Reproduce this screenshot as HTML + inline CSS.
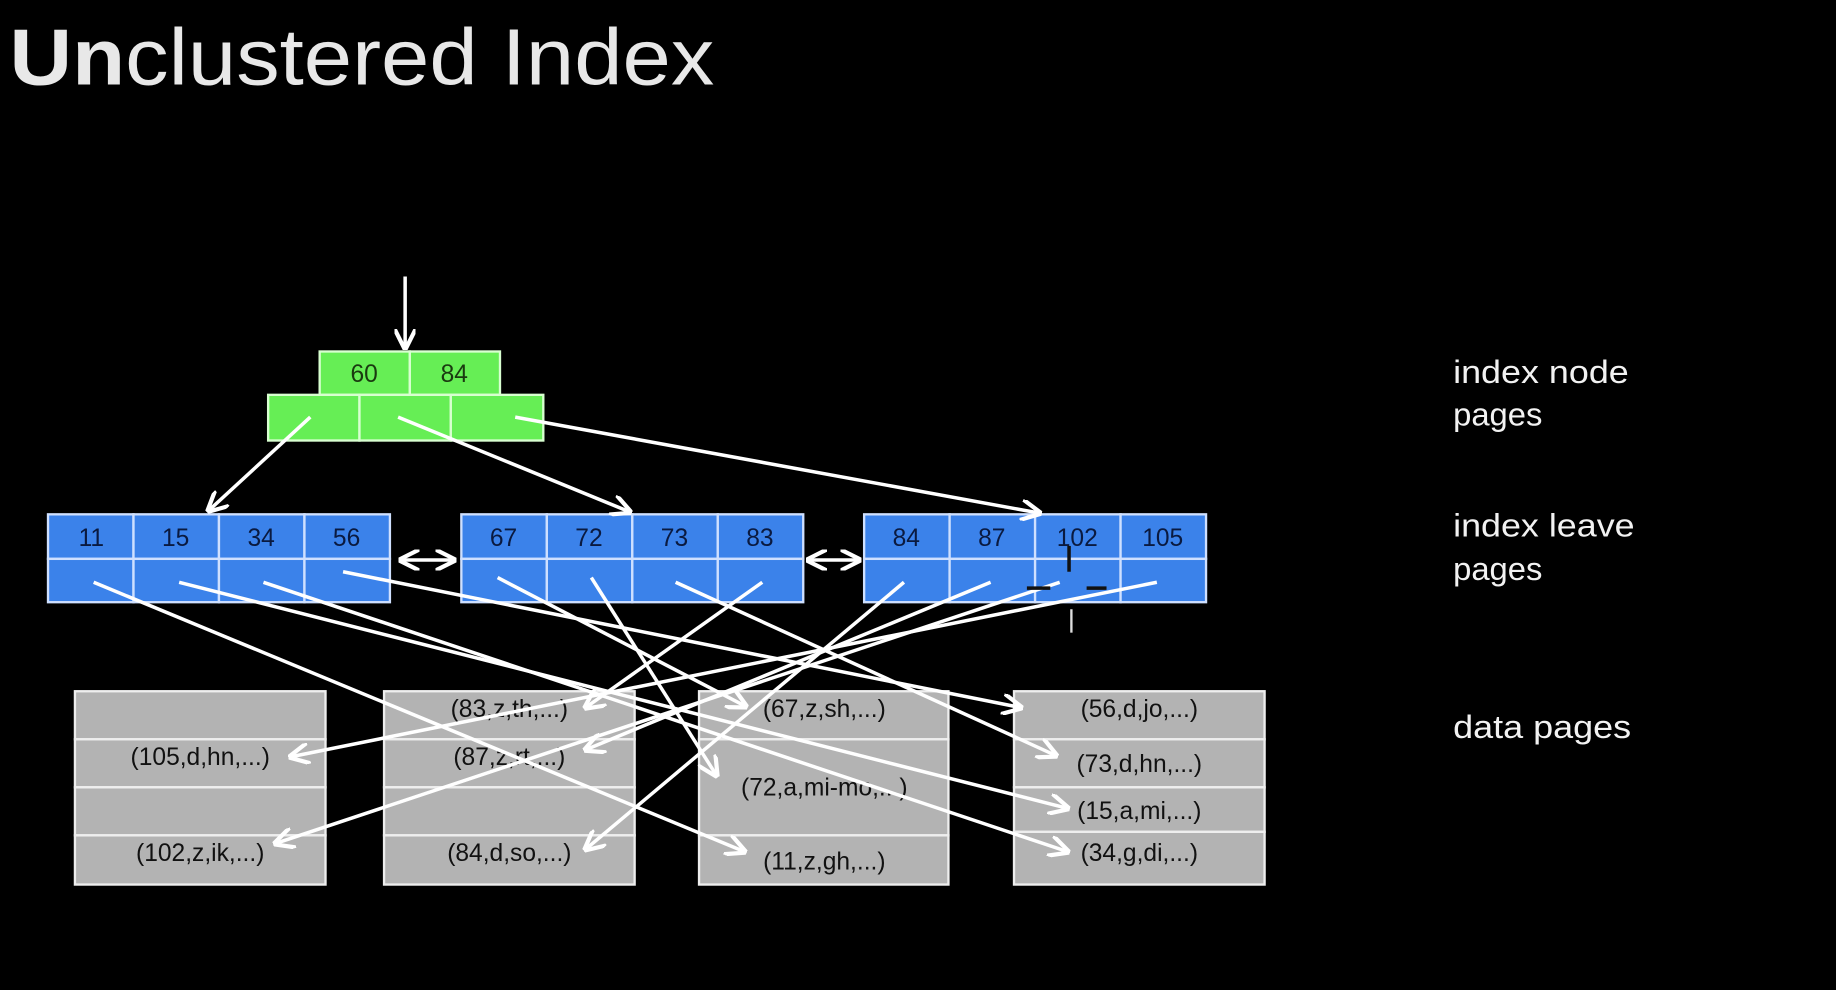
<!DOCTYPE html>
<html><head><meta charset="utf-8"><style>
html,body{margin:0;padding:0;background:#000;}
svg{display:block;}
</style></head><body>
<svg width="1836" height="990" viewBox="0 0 1568 845" preserveAspectRatio="none" xmlns="http://www.w3.org/2000/svg" font-family="Liberation Sans, sans-serif">
<defs>
<marker id="a" viewBox="0 0 10 10" refX="9" refY="5" markerWidth="18" markerHeight="18" markerUnits="userSpaceOnUse" orient="auto-start-reverse">
<path d="M0,0 L10,5 L0,10" fill="none" stroke="#fff" stroke-width="2"/>
</marker>
</defs>
<rect width="1568" height="845" fill="#000"/>
<text x="8" y="72" font-size="68" fill="#e8e8e8" textLength="602" lengthAdjust="spacingAndGlyphs"><tspan font-weight="bold">Un</tspan>clustered Index</text>

<g stroke="#d8ffd0" stroke-width="2" fill="#66ee55">
<rect x="273" y="300" width="77" height="37"/><rect x="350" y="300" width="77" height="37"/>
<rect x="229" y="337" width="78" height="39"/><rect x="307" y="337" width="78" height="39"/><rect x="385" y="337" width="79" height="39"/>
</g>
<g font-size="21" fill="#1a3a10" text-anchor="middle">
<text x="311" y="326">60</text><text x="388" y="326">84</text>
</g>

<g stroke="#cfe0ff" stroke-width="2" fill="#3b82ea">
<g id="n1">
<rect x="41" y="439" width="73" height="38"/><rect x="114" y="439" width="73" height="38"/><rect x="187" y="439" width="73" height="38"/><rect x="260" y="439" width="73" height="38"/>
<rect x="41" y="477" width="73" height="37"/><rect x="114" y="477" width="73" height="37"/><rect x="187" y="477" width="73" height="37"/><rect x="260" y="477" width="73" height="37"/>
</g>
<use href="#n1" x="353"/>
<use href="#n1" x="697"/>
</g>
<g font-size="21" fill="#0a1a40" text-anchor="middle">
<text x="78" y="466">11</text><text x="150" y="466">15</text><text x="223" y="466">34</text><text x="296" y="466">56</text>
<text x="430" y="466">67</text><text x="503" y="466">72</text><text x="576" y="466">73</text><text x="649" y="466">83</text>
<text x="774" y="466">84</text><text x="847" y="466">87</text><text x="920" y="466">102</text><text x="993" y="466">105</text>
</g>

<g stroke="#eee" stroke-width="2" fill="#b3b3b3">
<rect x="64" y="590" width="214" height="41"/><rect x="64" y="631" width="214" height="41"/><rect x="64" y="672" width="214" height="41"/><rect x="64" y="713" width="214" height="42"/>
<rect x="328" y="590" width="214" height="41"/><rect x="328" y="631" width="214" height="41"/><rect x="328" y="672" width="214" height="41"/><rect x="328" y="713" width="214" height="42"/>
<rect x="597" y="590" width="213" height="41"/><rect x="597" y="631" width="213" height="82"/><rect x="597" y="713" width="213" height="42"/>
<rect x="866" y="590" width="214" height="41"/><rect x="866" y="631" width="214" height="41"/><rect x="866" y="672" width="214" height="38"/><rect x="866" y="710" width="214" height="45"/>
</g>
<g font-size="21" fill="#111" text-anchor="middle">
<text x="171" y="653">(105,d,hn,...)</text><text x="171" y="735">(102,z,ik,...)</text>
<text x="435" y="612">(83,z,th,...)</text><text x="435" y="653">(87,z,rt,...)</text><text x="435" y="735">(84,d,so,...)</text>
<text x="704" y="612">(67,z,sh,...)</text><text x="704" y="679">(72,a,mi-mo,...)</text><text x="704" y="742">(11,z,gh,...)</text>
<text x="973" y="612">(56,d,jo,...)</text><text x="973" y="659">(73,d,hn,...)</text><text x="973" y="699">(15,a,mi,...)</text><text x="973" y="735">(34,g,di,...)</text>
</g>

<g stroke="#fff" stroke-width="3" fill="none" marker-end="url(#a)">
<line x1="346" y1="236" x2="346" y2="297"/>
<line x1="265" y1="356" x2="178" y2="436"/>
<line x1="340" y1="356" x2="538" y2="437"/>
<line x1="440" y1="356" x2="888" y2="438"/>
<line x1="342" y1="478" x2="388" y2="478" marker-start="url(#a)"/>
<line x1="690" y1="478" x2="734" y2="478" marker-start="url(#a)"/>
<line x1="80" y1="497" x2="636" y2="727"/>
<line x1="153" y1="497" x2="912" y2="690"/>
<line x1="225" y1="497" x2="912" y2="727"/>
<line x1="293" y1="488" x2="872" y2="604"/>
<line x1="425" y1="493" x2="637" y2="603"/>
<line x1="505" y1="493" x2="612" y2="662"/>
<line x1="577" y1="497" x2="902" y2="645"/>
<line x1="651" y1="497" x2="500" y2="604"/>
<line x1="772" y1="497" x2="500" y2="725"/>
<line x1="846" y1="497" x2="500" y2="640"/>
<line x1="905" y1="497" x2="235" y2="720"/>
<line x1="988" y1="497" x2="248" y2="646"/>
</g>
<g stroke="#111" stroke-width="3">
<line x1="913" y1="466" x2="913" y2="488"/><line x1="877" y1="502" x2="897" y2="502"/><line x1="928" y1="502" x2="945" y2="502"/>
</g>
<line x1="915" y1="520" x2="915" y2="540" stroke="#ddd" stroke-width="2"/>

<g font-size="28" fill="#f2f2f2">
<text x="1241" y="327" textLength="150" lengthAdjust="spacingAndGlyphs">index node</text><text x="1241" y="363">pages</text>
<text x="1241" y="458" textLength="155" lengthAdjust="spacingAndGlyphs">index leave</text><text x="1241" y="495">pages</text>
<text x="1241" y="630" textLength="152" lengthAdjust="spacingAndGlyphs">data pages</text>
</g>
</svg>
</body></html>
